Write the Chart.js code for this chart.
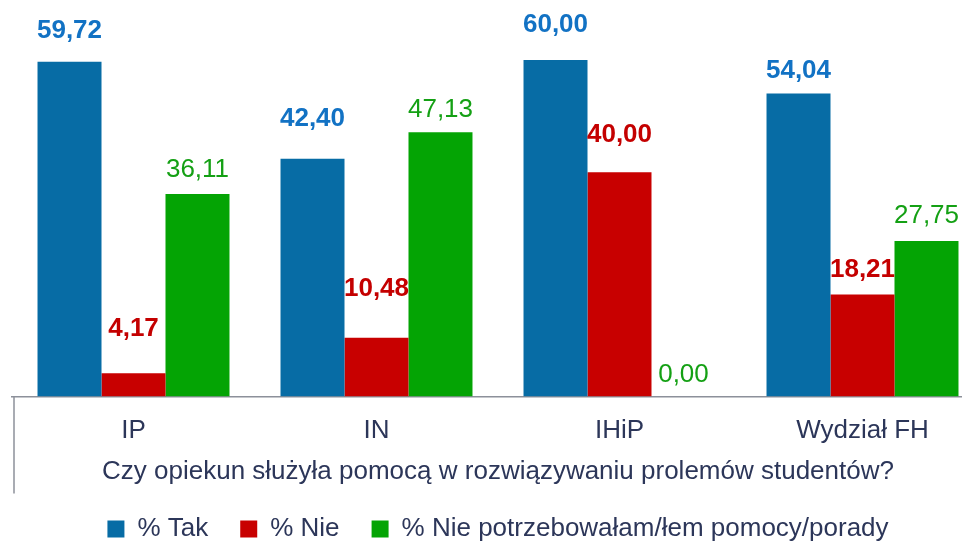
<!DOCTYPE html>
<html>
<head>
<meta charset="utf-8">
<script src="https://cdn.jsdelivr.net/npm/chart.js@4.4.0/dist/chart.umd.min.js"></script>
<style>
  html, body { margin: 0; padding: 0; background: #fff; overflow: hidden; }
  #wrap { width: 990px; height: 543px; }
</style>
</head>
<body>
<div id="wrap"><canvas id="chart" width="990" height="543"></canvas></div>
<script>
// Data
const categories = ['IP', 'IN', 'IHiP', 'Wydział FH'];
const seriesNames = ['% Tak', '% Nie', '% Nie potrzebowałam/łem pomocy/porady'];
const tak = [59.72, 42.40, 60.00, 54.04];
const nie = [4.17, 10.48, 40.00, 18.21];
const niePotrzeba = [36.11, 47.13, 0.00, 27.75];
const axisTitle = 'Czy opiekun służyła pomocą w rozwiązywaniu prolemów studentów?';

// label gap above each bar top (px), per series
const labelLift = [
    [24, 33, 28, 16],
    [37, 42, 30, 17],
    [17, 15, 15, 18]
];

const barColors = ['#076ca5', '#c80000', '#04a404'];
const labelColors = ['#1272c4', '#c40000', '#14a014'];
const labelWeights = ['bold', 'bold', 'normal'];
const textColor = '#2c3659';
const fontFamily = 'Arial, "Liberation Sans", sans-serif';

// Value labels above bars
const valueLabels = {
    id: 'valueLabels',
    afterDatasetsDraw(chart) {
        const ctx = chart.ctx;
        ctx.save();
        ctx.textAlign = 'center';
        ctx.textBaseline = 'alphabetic';
        chart.data.datasets.forEach((ds, i) => {
            const meta = chart.getDatasetMeta(i);
            ctx.fillStyle = labelColors[i];
            ctx.font = labelWeights[i] + ' 26px ' + fontFamily;
            meta.data.forEach((bar, j) => {
                const txt = ds.data[j].toFixed(2).replace('.', ',');
                ctx.fillText(txt, bar.x, bar.y - labelLift[i][j]);
            });
        });
        ctx.restore();
    }
};

// Left frame line running down past the axis
const leftLine = {
    id: 'leftLine',
    afterDraw(chart) {
        const ctx = chart.ctx;
        const area = chart.chartArea;
        ctx.save();
        ctx.strokeStyle = '#8c909a';
        ctx.lineWidth = 1.5;
        ctx.beginPath();
        ctx.moveTo(area.left + 2, area.bottom);
        ctx.lineTo(area.left + 2, area.bottom + 97);
        ctx.stroke();
        ctx.restore();
    }
};

new Chart(document.getElementById('chart'), {
    type: 'bar',
    data: {
        labels: categories,
        datasets: [tak, nie, niePotrzeba].map((vals, i) => ({
            label: seriesNames[i],
            data: vals,
            backgroundColor: barColors[i],
            borderWidth: 0,
            categoryPercentage: 0.79,
            barPercentage: 1.0
        }))
    },
    options: {
        responsive: false,
        animation: false,
        layout: { padding: { left: 12, right: 6, top: 4, bottom: -9 } },
        scales: {
            x: {
                grid: { display: false },
                border: { display: true, color: '#8c909a', width: 1.5 },
                ticks: { color: textColor, font: { family: fontFamily, size: 26 }, padding: 11 },
                title: {
                    display: true,
                    text: axisTitle,
                    color: textColor,
                    font: { family: fontFamily, size: 26 },
                    padding: { top: -2, bottom: -3 }
                }
            },
            y: {
                display: false,
                min: 0,
                max: 70
            }
        },
        plugins: {
            legend: {
                position: 'bottom',
                labels: {
                    color: textColor,
                    font: { family: fontFamily, size: 26 },
                    boxWidth: 17,
                    boxHeight: 17,
                    padding: 32
                }
            },
            tooltip: { enabled: false }
        }
    },
    plugins: [valueLabels, leftLine]
});
</script>
</body>
</html>
